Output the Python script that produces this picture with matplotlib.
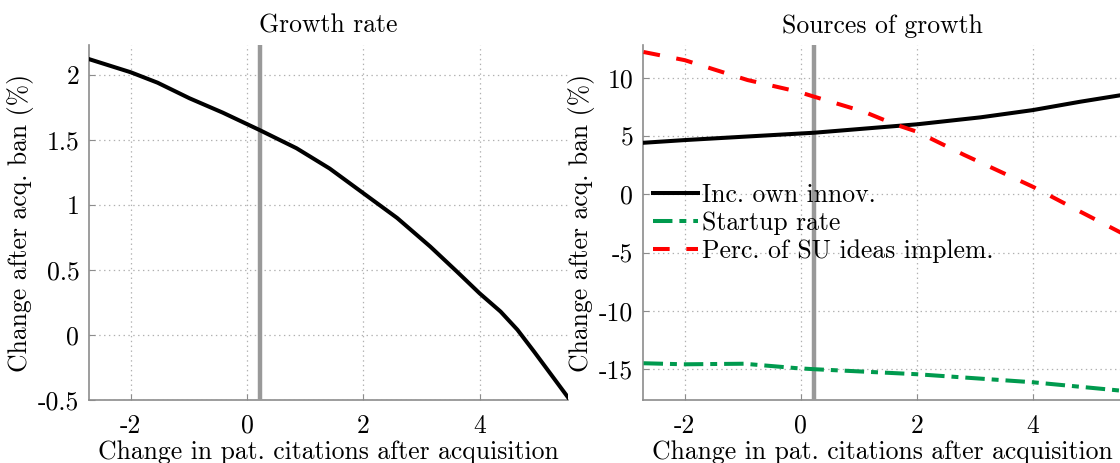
import matplotlib
matplotlib.use("Agg")
import matplotlib.pyplot as plt
from matplotlib.ticker import FuncFormatter

# ---------------- data ----------------
vline_x = 0.22

# Left panel: growth rate
growth_x = [-2.71, -2.0, -1.54, -0.99, -0.42, 0.21, 0.85, 1.42, 2.0, 2.58, 3.15, 3.61, 4.0, 4.36, 4.65, 4.94, 5.52]
growth_y = [2.12, 2.02, 1.94, 1.82, 1.71, 1.577, 1.436, 1.28, 1.09, 0.90, 0.68, 0.487, 0.32, 0.18, 0.04, -0.13, -0.48]

# Right panel: sources of growth
own_x = [-2.71, -2.0, -0.98, 0.23, 2.0, 3.1, 4.0, 4.82, 5.52]
own_y = [4.42, 4.65, 4.94, 5.28, 6.0, 6.6, 7.22, 7.94, 8.5]

su_x = [-2.71, -2.0, -0.92, -0.05, 0.23, 1.09, 1.61, 2.0, 2.82, 4.0, 4.82, 5.52]
su_y = [12.2, 11.5, 9.8, 8.8, 8.37, 7.08, 6.02, 5.37, 3.37, 0.65, -1.49, -3.29]

startup_x = [-2.71, -2.0, -0.98, -0.05, 0.23, 2.0, 4.0, 5.52]
startup_y = [-14.48, -14.57, -14.52, -14.91, -14.99, -15.42, -16.11, -16.83]

xticks = [-2, 0, 2, 4]
left_yticks = [-0.5, 0, 0.5, 1, 1.5, 2]
right_yticks = [-15, -10, -5, 0, 5, 10]

titles = ["Growth rate", "Sources of growth"]
xlabel = "Change in pat. citations after acquisition"
ylabel = "Change after acq. ban (%)"
legend_labels = ["Inc. own innov.", "Startup rate", "Perc. of SU ideas implem."]

# ---------------- style ----------------
plt.rcParams['font.family'] = ['cmr10', 'DejaVu Serif']
plt.rcParams['axes.unicode_minus'] = False
plt.rcParams['axes.formatter.use_mathtext'] = False
plt.rcParams['lines.scale_dashes'] = False
FS = 18.5
SPINE = '#8c8c8c'
GRID = '#b0b0b0'
VCOL = '#999999'

fig = plt.figure(figsize=(11.2, 4.63), dpi=100)
W, H = 1120, 463
def rect(x0, x1, y0, y1):
    return [x0 / W, 1 - y1 / H, (x1 - x0) / W, (y1 - y0) / H]

ax1 = fig.add_axes(rect(89, 568, 45, 400))
ax2 = fig.add_axes(rect(643, 1121, 45, 400))

fmt = FuncFormatter(lambda v, p: ('%g' % v))

for ax in (ax1, ax2):
    ax.set_xlim(-2.72, 5.52)
    ax.set_xticks(xticks)
    ax.xaxis.set_major_formatter(fmt)
    ax.yaxis.set_major_formatter(fmt)
    ax.grid(True, linestyle=(0, (1, 2.5)), color=GRID, linewidth=0.9)
    ax.set_axisbelow(True)
    for s in ('top', 'right'):
        ax.spines[s].set_visible(False)
    for s in ('left', 'bottom'):
        ax.spines[s].set_color(SPINE)
        ax.spines[s].set_linewidth(1.2)
    ax.tick_params(direction='in', length=4, width=0.8, color=SPINE,
                   labelsize=FS, labelcolor='black')
    ax.tick_params(axis='x', pad=10)
    ax.tick_params(axis='y', pad=7)
    ax.set_xlabel(xlabel, fontsize=FS, labelpad=2)
    ax.set_ylabel(ylabel, fontsize=FS, labelpad=3)
    ax.axvline(vline_x, color=VCOL, linewidth=3.2, zorder=3)

# Left panel
ax1.set_ylim(-0.5, 2.23)
ax1.set_yticks(left_yticks)
ax1.plot(growth_x, growth_y, color='black', linewidth=2.9, zorder=4, clip_on=True)
ax1.set_title(titles[0], fontsize=FS, pad=9)

# Right panel
ax2.set_ylim(-17.63, 12.8)
ax2.set_yticks(right_yticks)
l_own, = ax2.plot(own_x, own_y, color='black', linewidth=2.9, zorder=4)
l_st, = ax2.plot(startup_x, startup_y, color='#009a4e', linewidth=2.9, zorder=4,
                 linestyle=(0, (14, 5, 5, 5)))
l_su, = ax2.plot(su_x, su_y, color='#ff0000', linewidth=2.9, zorder=4,
                 linestyle=(0, (12, 12)))
ax2.set_title(titles[1], fontsize=FS, pad=9)

leg = ax2.legend([l_own, l_st, l_su], legend_labels, loc='upper left',
                 bbox_to_anchor=(0.021, 0.6115), frameon=False, fontsize=FS,
                 handlelength=1.75, handletextpad=0.15, labelspacing=0.17,
                 borderaxespad=0.0, borderpad=0.0)

fig.savefig('out.png', dpi=100)
